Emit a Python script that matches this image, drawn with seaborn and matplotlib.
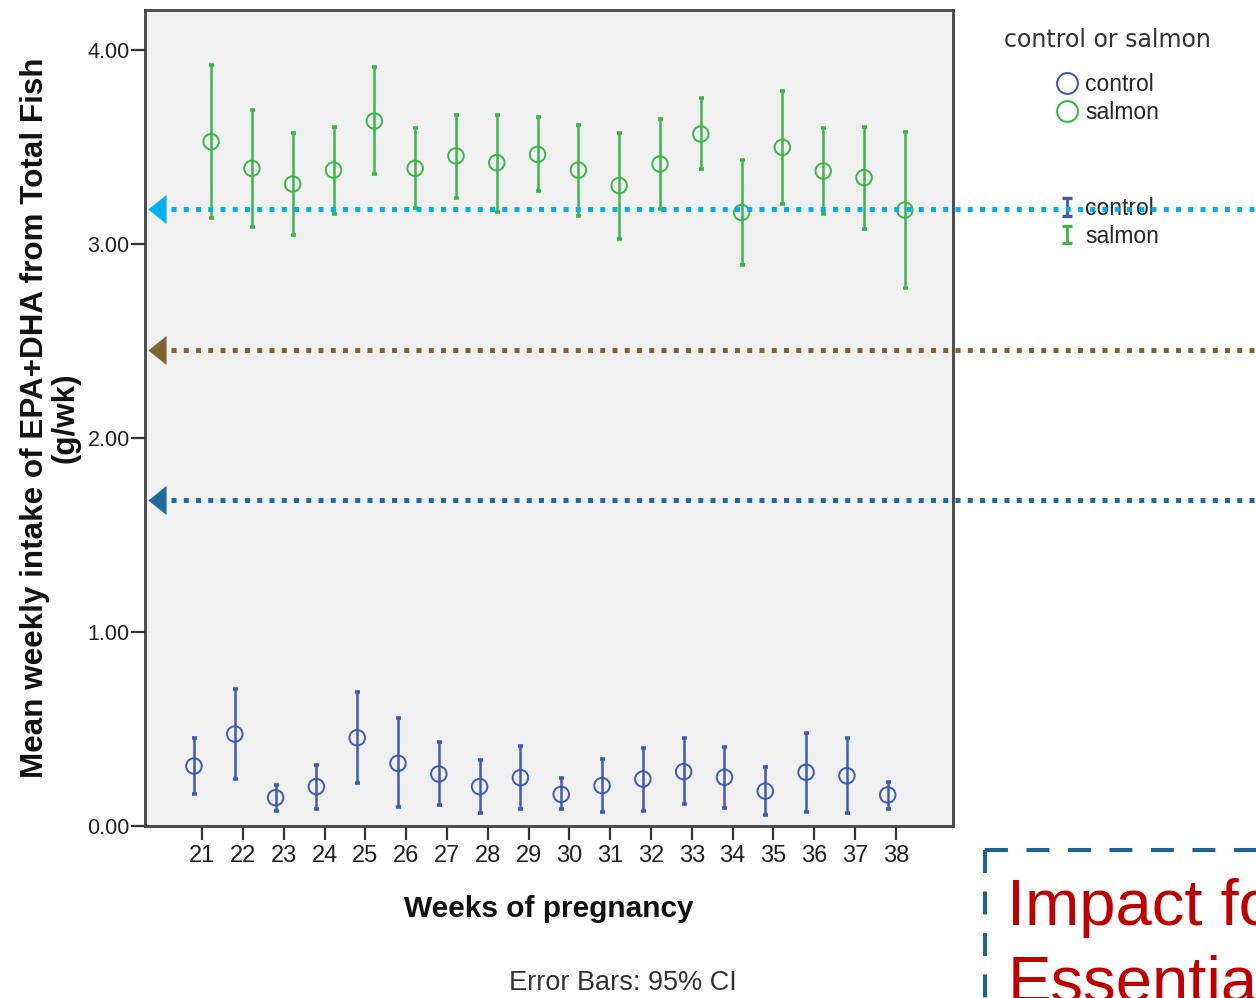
import numpy as np
import pandas as pd
import matplotlib
matplotlib.use("Agg")
import matplotlib.pyplot as plt
import matplotlib.transforms as mtransforms
from matplotlib.lines import Line2D
from matplotlib.legend_handler import HandlerErrorbar
from matplotlib import font_manager
import seaborn as sns

# ---------------- data ----------------
weeks = list(range(21, 39))
groups = ["control", "salmon"]
control_mean = [0.309, 0.474, 0.146, 0.203, 0.455, 0.323, 0.268, 0.203, 0.249,
                0.163, 0.208, 0.242, 0.280, 0.251, 0.180, 0.277, 0.259, 0.160]
control_lo = [0.163, 0.242, 0.077, 0.088, 0.220, 0.096, 0.108, 0.065, 0.088,
              0.086, 0.074, 0.079, 0.112, 0.091, 0.057, 0.074, 0.065, 0.088]
control_hi = [0.455, 0.706, 0.211, 0.314, 0.692, 0.555, 0.435, 0.340, 0.412,
              0.246, 0.345, 0.400, 0.452, 0.409, 0.302, 0.481, 0.452, 0.228]
salmon_mean = [3.527, 3.390, 3.309, 3.381, 3.634, 3.390, 3.454, 3.419, 3.462,
               3.381, 3.301, 3.412, 3.567, 3.162, 3.498, 3.376, 3.342, 3.175]
salmon_lo = [3.136, 3.089, 3.046, 3.155, 3.359, 3.184, 3.239, 3.166, 3.275,
             3.144, 3.024, 3.178, 3.384, 2.894, 3.206, 3.155, 3.076, 2.775]
salmon_hi = [3.920, 3.690, 3.574, 3.601, 3.914, 3.596, 3.665, 3.665, 3.653,
             3.613, 3.574, 3.644, 3.751, 3.433, 3.790, 3.596, 3.605, 3.578]
y_ticks = [0, 1, 2, 3, 4]
ref_levels = [3.178, 2.451, 1.678]

# ---------------- style ----------------
sns.set_style("white")
avail = {f.name for f in font_manager.fontManager.ttflist}
SANS = "Liberation Sans" if "Liberation Sans" in avail else "DejaVu Sans"
NARROW = "Liberation Sans Narrow" if "Liberation Sans Narrow" in avail else SANS
plt.rcParams["font.family"] = [SANS, "DejaVu Sans"]

blue = "#3f5ab4"
green = "#3cb54a"
palette = {"control": blue, "salmon": green}
offsets = {"control": -0.2, "salmon": 0.22}

W, H = 1256, 998
fig = plt.figure(figsize=(W / 100, H / 100), dpi=100)
ax = fig.add_axes([145 / W, 1 - 826 / H, 808 / W, 816 / H])
ax.set_facecolor("#f0f0f0")

series = {
    "control": (control_mean, control_lo, control_hi),
    "salmon": (salmon_mean, salmon_lo, salmon_hi),
}
rows = []
for g in groups:
    m, lo, hi = series[g]
    for w, mv, l, h in zip(weeks, m, lo, hi):
        rows.append({"week": w, "group": g, "mean": mv, "lo": l, "hi": h,
                     "xpos": w + offsets[g]})
df = pd.DataFrame(rows)

# error bars (95% CI)
for g in groups:
    d = df[df["group"] == g]
    ax.errorbar(d["xpos"], d["mean"],
                yerr=[d["mean"] - d["lo"], d["hi"] - d["mean"]],
                fmt="none", ecolor=palette[g], elinewidth=1.8,
                capsize=1.8, capthick=2.6, zorder=2)

# mean markers (open circles) via seaborn
sns.scatterplot(data=df, x="xpos", y="mean", hue="group", palette=palette,
                s=125, marker="o", linewidth=1.4, legend=False, ax=ax, zorder=3)
for coll in ax.collections:
    fc = coll.get_facecolors()
    if len(fc):
        coll.set_edgecolors(fc)
        coll.set_facecolors("none")

ax.set_xlim(19.6, 39.4)
ax.set_ylim(0, 4.206)
ax.set_xticks(weeks)
ax.set_xticklabels([str(w) for w in weeks], fontfamily=NARROW, fontsize=17)
ax.set_yticks(y_ticks)
ax.set_yticklabels([f"{v:.2f}" for v in y_ticks], fontsize=15.5)
ax.tick_params(axis="both", direction="out", length=10, width=1.6,
               color="#333333", labelcolor="#222222", bottom=True, left=True)
ax.tick_params(axis="y", pad=1)
ax.tick_params(axis="x", pad=4)
for side, sp in ax.spines.items():
    sp.set_visible(True)
    sp.set_color("#444444")
    sp.set_linewidth(2.0)

ax.set_xlabel("Weeks of pregnancy", fontsize=21.5, fontweight="bold", color="#111111")
ax.xaxis.set_label_coords(0.5, (826 - 895) / 816)
ax.set_ylabel("Mean weekly intake of EPA+DHA from Total Fish\n(g/wk)",
              fontsize=22.6, fontweight="bold", color="#111111", linespacing=1.0)
ax.yaxis.set_label_coords((80 - 145) / 808, 0.5)

fig.text(623 / W, 1 - 983 / H, "Error Bars: 95% CI", ha="center", va="center",
         fontsize=19.5, color="#333333")

# legends
fig.text(1107 / W, 1 - 40 / H, "control or salmon", ha="center", va="center",
         family="DejaVu Sans", fontsize=17, color="#333333")
h_c = Line2D([], [], ls="none", marker="o", ms=15, mfc="none", mec=blue, mew=1.5)
h_s = Line2D([], [], ls="none", marker="o", ms=15, mfc="none", mec=green, mew=1.5)
leg1 = fig.legend(handles=[h_c, h_s], labels=groups,
                  loc="upper center", bbox_to_anchor=(1107 / W, 1 - 73 / H),
                  frameon=False, prop={"family": SANS, "size": 16.5},
                  handlelength=1.0, handletextpad=0.3, labelspacing=0.2,
                  borderpad=0, borderaxespad=0)

eb_handles = []
for g in groups:
    eb = ax.errorbar([np.nan], [np.nan], yerr=[np.nan], fmt="none",
                     ecolor=palette[g], elinewidth=2.0, capsize=3.5, capthick=2.4)
    eb_handles.append(eb)
leg2 = fig.legend(handles=eb_handles, labels=groups, loc="upper center",
                  bbox_to_anchor=(1107 / W, 1 - 197 / H), frameon=False,
                  prop={"family": SANS, "size": 16.5}, handlelength=1.0,
                  handletextpad=0.3, labelspacing=0.2, borderpad=0,
                  borderaxespad=0,
                  handler_map={type(eb_handles[0]): HandlerErrorbar(xerr_size=0.5, yerr_size=0.38)})

# reference dotted arrows
blend = mtransforms.blended_transform_factory(fig.transFigure, ax.transData)
ref_colors = ["#00b0f0", "#7f6433", "#1f6b9e"]
arrow = [(-9, 0), (9, 14.5), (9, -14.5)]
for lvl, c in zip(ref_levels, ref_colors):
    fig.add_artist(Line2D([171 / W, 1.02], [lvl, lvl], transform=blend, color=c,
                          lw=3.6, dashes=(1.0, 1.45), dash_capstyle="butt",
                          zorder=6))
    fig.add_artist(Line2D([157 / W], [lvl], transform=blend, ls="none",
                          marker=arrow, ms=21, color=c, mec="none", zorder=7))

# dashed callout box (cut by figure edge, as in the reference)
box_c = "#1a6496"
fig.add_artist(Line2D([985 / W, 1.05], [1 - 850 / H] * 2, color=box_c, lw=2.9,
                      dashes=(5.7, 4.6), dash_capstyle="butt", zorder=6))
fig.add_artist(Line2D([985 / W] * 2, [1 - 850 / H, -0.05], color=box_c, lw=2.9,
                      dashes=(5.7, 4.6), dash_capstyle="butt", zorder=6))
fig.text(1007 / W, 1 - 925 / H, "Impact for", fontsize=47, color="#c00000",
         family=SANS, ha="left", va="baseline")
fig.text(1008 / W, 1 - 1002 / H, "Essential", fontsize=47, color="#c00000",
         family=SANS, ha="left", va="baseline")

fig.savefig("out.png", dpi=100, facecolor="white")
